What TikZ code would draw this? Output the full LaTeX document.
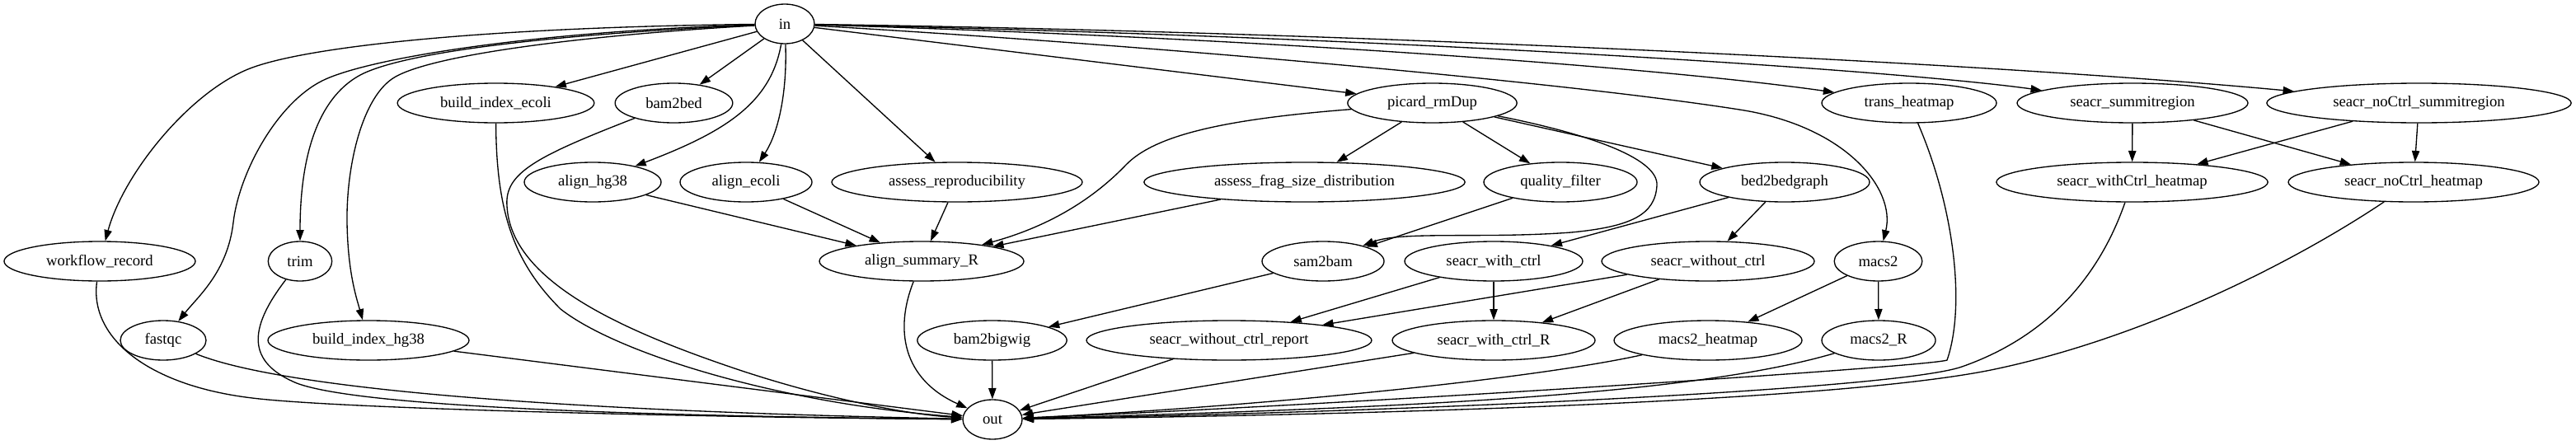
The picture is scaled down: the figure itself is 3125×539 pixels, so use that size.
\documentclass[tikz,border=0pt]{standalone}
\usepackage{fontspec}
\setmainfont{Liberation Serif}
\usetikzlibrary{shapes.geometric,arrows.meta}
\begin{document}
\begin{tikzpicture}[x=0.75pt,y=-0.75pt,
  nd/.style={ellipse,draw,line width=1pt,inner sep=0pt,minimum height=36pt,font=\fontsize{14}{16}\selectfont},
  edg/.style={line width=1pt,-{Triangle[length=10pt,width=7pt]}}]
\useasboundingbox (0,0) rectangle (3125,539);
\fill[white] (0,0) rectangle (3125,539);
% row 1
\node[nd,minimum width=54pt] (nin) at (952,29) {in};
% row 2
\node[nd,minimum width=179pt] (bie) at (601.5,125) {build\_index\_ecoli};
\node[nd,minimum width=107pt] (b2bed) at (817.5,125) {bam2bed};
\node[nd,minimum width=154pt] (pic) at (1737.5,125) {picard\_rmDup};
\node[nd,minimum width=159pt] (th) at (2316,125) {trans\_heatmap};
\node[nd,minimum width=210pt] (ss) at (2587,125) {seacr\_summitregion};
\node[nd,minimum width=277pt] (sns) at (2934.5,125) {seacr\_noCtrl\_summitregion};
% row 3
\node[nd,minimum width=124.5pt] (ahg) at (719,221) {align\_hg38};
\node[nd,minimum width=120pt] (aec) at (905,221) {align\_ecoli};
\node[nd,minimum width=228pt] (ar) at (1161,221) {assess\_reproducibility};
\node[nd,minimum width=292pt] (af) at (1582.5,221) {assess\_frag\_size\_distribution};
\node[nd,minimum width=139.5pt] (qf) at (1893,221) {quality\_filter};
\node[nd,minimum width=154.5pt] (bbg) at (2165,221) {bed2bedgraph};
\node[nd,minimum width=247pt] (swh) at (2586.5,221) {seacr\_withCtrl\_heatmap};
\node[nd,minimum width=228pt] (snh) at (2928,221) {seacr\_noCtrl\_heatmap};
% row 4
\node[nd,minimum width=174pt] (wr) at (121,317) {workflow\_record};
\node[nd,minimum width=58pt] (trim) at (364,317) {trim};
\node[nd,minimum width=186pt] (asr) at (1118,317) {align\_summary\_R};
\node[nd,minimum width=111pt] (s2b) at (1605,317) {sam2bam};
\node[nd,minimum width=162pt] (swc) at (1812,317) {seacr\_with\_ctrl};
\node[nd,minimum width=193.5pt] (swoc) at (2072,317) {seacr\_without\_ctrl};
\node[nd,minimum width=80pt] (mac) at (2278.5,317) {macs2};
% row 5
\node[nd,minimum width=78pt] (fq) at (198,413) {fastqc};
\node[nd,minimum width=183pt] (bih) at (447,413) {build\_index\_hg38};
\node[nd,minimum width=136pt] (bbw) at (1203.5,413) {bam2bigwig};
\node[nd,minimum width=259.5pt] (swocr) at (1491,413) {seacr\_without\_ctrl\_report};
\node[nd,minimum width=184.5pt] (swcR) at (1812,413) {seacr\_with\_ctrl\_R};
\node[nd,minimum width=171pt] (mh) at (2072,413) {macs2\_heatmap};
\node[nd,minimum width=103.5pt] (mR) at (2279,413) {macs2\_R};
% row 6
\node[nd,minimum width=54pt] (nout) at (1204,509) {out};

% edges from in
\draw[edg] (nin) .. controls (600,33) and (380,55) .. (306,82) .. controls (232,109) and (150,210) .. (wr);
\draw[edg] (nin) .. controls (650,38) and (450,70) .. (393,97) .. controls (336,124) and (290,210) .. (283,270) .. controls (276,330) and (240,360) .. (fq);
\draw[edg] (nin) .. controls (700,40) and (500,60) .. (439,90) .. controls (390,115) and (364,180) .. (trim);
\draw[edg] (nin) .. controls (720,42) and (530,65) .. (480,93) .. controls (440,115) and (420,200) .. (421,270) .. controls (422,330) and (432,360) .. (bih);
\draw[edg] (nin) -- (bie);
\draw[edg] (nin) -- (b2bed);
\draw[edg] (nin) .. controls (935,125) and (880,160) .. (ahg);
\draw[edg] (nin) .. controls (955,110) and (945,160) .. (aec);
\draw[edg] (nin) -- (ar);
\draw[edg] (nin) -- (pic);
\draw[edg] (nin) .. controls (1400,55) and (1900,100) .. (2110,133) .. controls (2240,153) and (2300,230) .. (mac);
\draw[edg] (nin) .. controls (1500,45) and (2000,80) .. (th);
\draw[edg] (nin) .. controls (1700,45) and (2300,85) .. (ss);
\draw[edg] (nin) .. controls (1600,38) and (2400,75) .. (sns);

% picard
\draw[edg] (pic) .. controls (1480,145) and (1400,165) .. (1366,200) .. controls (1340,227) and (1290,270) .. (asr);
\draw[edg] (pic) -- (af);
\draw[edg] (pic) -- (qf);
\draw[edg] (pic) -- (bbg);
\draw[edg] (pic) .. controls (1940,165) and (2012,195) .. (2010,225) .. controls (2008,260) and (1980,275) .. (1906,282) .. controls (1800,290) and (1700,280) .. (s2b);

% into align_summary_R
\draw[edg] (ahg) -- (asr);
\draw[edg] (aec) -- (asr);
\draw[edg] (ar) -- (asr);
\draw[edg] (af) -- (asr);

% middle
\draw[edg] (qf) -- (s2b);
\draw[edg] (s2b) -- (bbw);
\draw[edg] (bbg) -- (swc);
\draw[edg] (bbg) -- (swoc);
\draw[edg] (swc) -- (swocr);
\draw[edg] (swc) -- (swcR);
\draw[edg] (swoc) -- (swocr);
\draw[edg] (swoc) -- (swcR);
\draw[edg] (mac) -- (mh);
\draw[edg] (mac) -- (mR);
\draw[edg] (ss) -- (swh);
\draw[edg] (ss) -- (snh);
\draw[edg] (sns) -- (swh);
\draw[edg] (sns) -- (snh);

% into out
\draw[edg] (wr) .. controls (108,410) and (180,468) .. (306,483) .. controls (420,497) and (900,507) .. (nout);
\draw[edg] (fq) .. controls (300,455) and (500,495) .. (nout);
\draw[edg] (trim) .. controls (300,400) and (300,440) .. (360,465) .. controls (440,495) and (800,505) .. (nout);
\draw[edg] (bih) -- (nout);
\draw[edg] (bie) .. controls (602,260) and (625,320) .. (680,375) .. controls (750,430) and (950,490) .. (nout);
\draw[edg] (b2bed) .. controls (650,190) and (612,210) .. (615,250) .. controls (620,340) and (750,400) .. (900,450) .. controls (1000,483) and (1100,503) .. (nout);
\draw[edg] (asr) .. controls (1085,400) and (1095,460) .. (nout);
\draw[edg] (bbw) -- (nout);
\draw[edg] (swocr) -- (nout);
\draw[edg] (swcR) -- (nout);
\draw[edg] (mh) .. controls (1850,462) and (1500,495) .. (nout);
\draw[edg] (mR) .. controls (2050,480) and (1700,495) .. (nout);
\draw[edg] (th) .. controls (2370,250) and (2385,370) .. (2362,437) .. controls (2340,445) and (1650,490) .. (nout);
\draw[edg] (swh) .. controls (2545,340) and (2480,410) .. (2380,445) .. controls (2300,473) and (1700,500) .. (nout);
\draw[edg] (snh) .. controls (2780,320) and (2600,410) .. (2420,448) .. controls (2240,486) and (1700,503) .. (nout);
\end{tikzpicture}
\end{document}
